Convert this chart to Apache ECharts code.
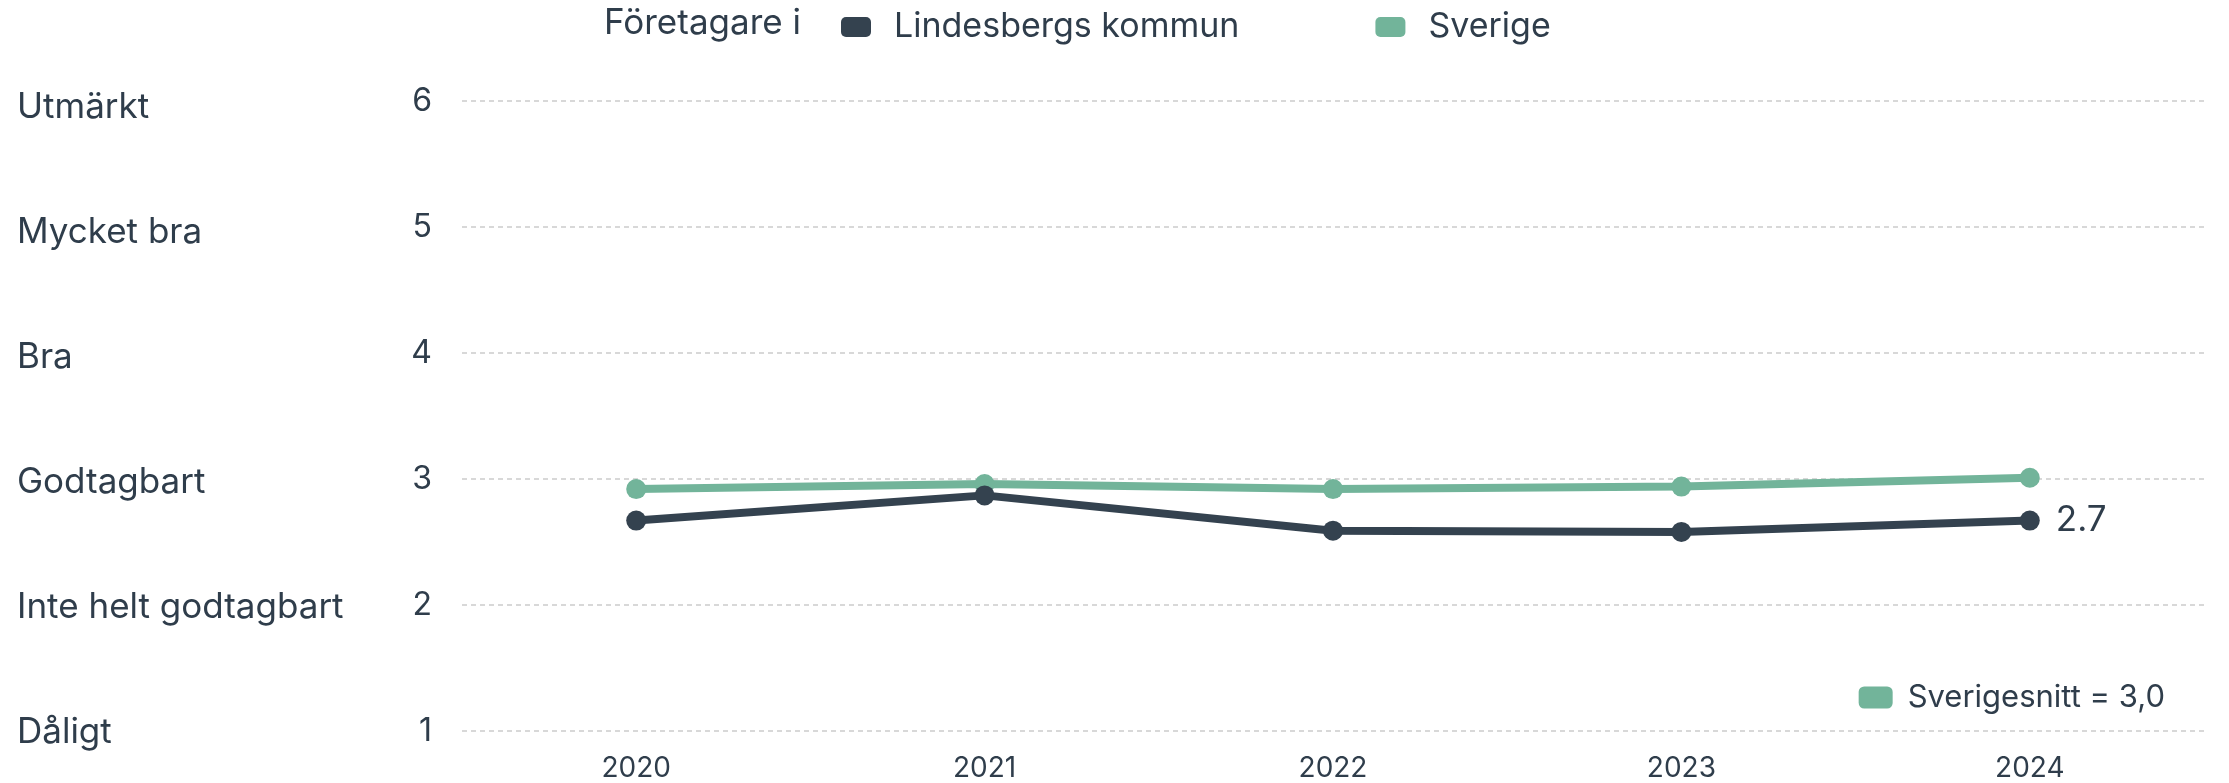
<!DOCTYPE html>
<html>
<head>
<meta charset="utf-8">
<script src="https://cdn.jsdelivr.net/npm/echarts@6/dist/echarts.min.js"></script>
<style>
  html, body { margin: 0; padding: 0; background: #fff; }
  #app { width: 2229px; height: 783px; }
</style>
</head>
<body>
<div id="app"></div>
<script>
const years = ['2020', '2021', '2022', '2023', '2024'];
const lindesberg = [2.67, 2.87, 2.59, 2.58, 2.67];
const sverige = [2.92, 2.96, 2.92, 2.94, 3.01];
const gradeNames = ['', 'Dåligt', 'Inte helt godtagbart', 'Godtagbart', 'Bra', 'Mycket bra', 'Utmärkt'];

const textColor = '#2f3d4b';
const darkColor = '#34424f';
const greenColor = '#72b49a';
const font = 'Inter';

const eChart = echarts.init(document.getElementById('app'));

const option = {
  backgroundColor: '#fff',
  textStyle: { fontFamily: font, color: textColor },
  graphic: [
    {
      type: 'text',
      left: 604,
      top: 6,
      style: { text: 'Företagare i', fontSize: 35, fontFamily: font, fill: textColor },
    },
  ],
  legend: [
    {
      left: 836,
      top: 5,
      itemWidth: 30,
      itemHeight: 20,
      itemGap: 136,
      icon: 'roundRect',
      data: ['Lindesbergs kommun', 'Sverige'],
      textStyle: { fontSize: 34, color: textColor, fontFamily: font, padding: [0, 0, 0, 18] },
    },
    {
      right: 59,
      top: 677,
      itemWidth: 34,
      itemHeight: 22,
      icon: 'roundRect',
      data: ['Sverigesnitt = 3,0'],
      textStyle: { fontSize: 31, color: textColor, fontFamily: font, padding: [0, 0, 0, 10] },
    },
  ],
  grid: [
    { left: 462, right: 25, top: 101, bottom: 52 },
    // names sit a little below their gridlines
    { left: 462, right: 25, top: 107, bottom: 51 },
  ],
  xAxis: [
    {
      type: 'category',
      data: years,
      axisLine: { show: false },
      axisTick: { show: false },
      axisLabel: { fontSize: 28, color: textColor, fontFamily: font, margin: 24 },
    },
    {
      type: 'category',
      gridIndex: 1,
      data: years,
      show: false,
    },
  ],
  yAxis: [
    {
      type: 'value',
      min: 1,
      max: 6,
      interval: 1,
      axisLine: { show: false },
      axisTick: { show: false },
      axisLabel: { fontSize: 32, color: textColor, fontFamily: font, margin: 30 },
      splitLine: { lineStyle: { color: '#cccccc', type: [5, 4], width: 1.5 } },
    },
    {
      type: 'value',
      gridIndex: 1,
      min: 1,
      max: 6,
      interval: 1,
      axisLine: { show: false },
      axisTick: { show: false },
      splitLine: { show: false },
      axisLabel: {
        fontSize: 35,
        color: textColor,
        fontFamily: font,
        align: 'left',
        margin: 445,
        formatter: (v) => gradeNames[v] || '',
      },
    },
  ],
  series: [
    {
      name: 'Lindesbergs kommun',
      type: 'line',
      data: lindesberg.map((v, i) => ({
        value: v,
        label: i === lindesberg.length - 1
          ? { show: true, position: 'right', distance: 16, fontSize: 35, color: textColor, fontFamily: font, formatter: (p) => p.value.toFixed(1) }
          : { show: false },
      })),
      color: darkColor,
      symbol: 'circle',
      symbolSize: 20,
      lineStyle: { width: 8, color: darkColor },
      z: 3,
    },
    {
      name: 'Sverige',
      type: 'line',
      data: sverige,
      color: greenColor,
      symbol: 'circle',
      symbolSize: 20,
      lineStyle: { width: 8, color: greenColor },
      z: 2,
    },
    {
      name: 'Sverigesnitt = 3,0',
      type: 'line',
      data: [],
      color: greenColor,
    },
  ],
};
eChart.setOption(option);
</script>
</body>
</html>
